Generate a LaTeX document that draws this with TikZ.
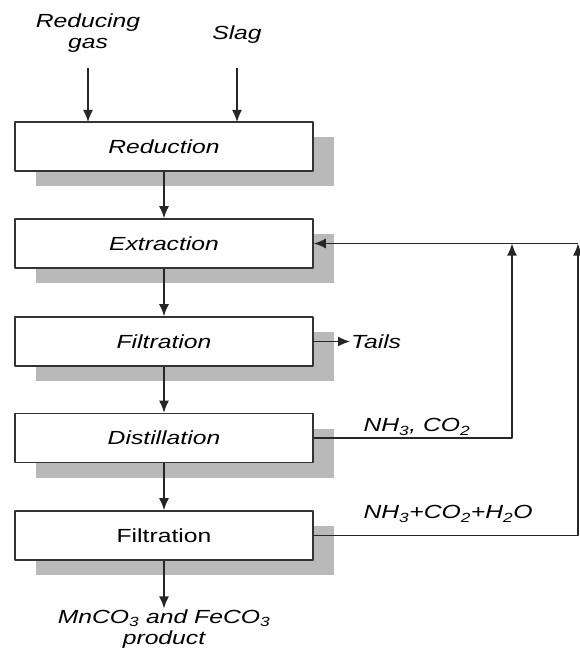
\documentclass[tikz,border=0pt]{standalone}
\usepackage{fontspec}
\setmainfont[FakeStretch=1.3]{Liberation Sans}
\usetikzlibrary{shadows,arrows.meta}
\begin{document}
\begin{tikzpicture}[>={Latex[length=12pt,width=10pt]},line join=round,x=1pt,y=-1pt,font=\fontsize{19}{21}\selectfont\itshape]
\def\bx{164}
\def\xr{578}
\tikzset{stage/.style={draw=black!80,line width=1.6pt,fill=white,minimum width=298pt,minimum height=49pt,inner sep=0pt,
  drop shadow={shadow xshift=21pt,shadow yshift=-15pt,fill=gray!55,opacity=1}},
  flow/.style={->,line width=1.5pt,black!85}}
\useasboundingbox (0,0) rectangle (580,650);
\node[align=center] (gas) at (88,33) {Reducing\\gas};
\node (slag) at (237,35) {Slag};
\node[stage] (red) at (\bx,146.5) {Reduction};
\node[stage] (ext) at (\bx,243.5) {Extraction};
\node[stage] (fil) at (\bx,341.5) {Filtration};
\node[stage] (dis) at (\bx,438) {Distillation};
\node[stage] (fil2) at (\bx,535.5) {\upshape Filtration};
\node[align=center,inner sep=1pt] (prod) at (\bx,629) {MnCO\textsubscript{3} and FeCO\textsubscript{3}\\product};
\node[anchor=west,inner sep=1pt] (tails) at (350,341.5) {Tails};
\node[anchor=west] (gas1) at (360,427) {NH\textsubscript{3}, CO\textsubscript{2}};
\node[anchor=west] (gas2) at (360,514) {NH\textsubscript{3}+CO\textsubscript{2}+H\textsubscript{2}O};
\coordinate (j1) at (512,243.5);
\coordinate (j2) at (\xr,243.5);
% feeds and main line
\draw[flow] (88,68) -- (88,122);
\draw[flow] (237,68) -- (237,122);
\draw[flow] (red) -- (ext);
\draw[flow] (ext) -- (fil);
\draw[flow] (fil) -- (dis);
\draw[flow] (dis) -- (fil2);
\draw[flow] (fil2) -- (prod);
% side streams
\draw[flow] (fil.east) -- (tails);
\draw[flow] (dis.east) -| (j1);
\draw[flow] (fil2.east) -| (j2);
\draw[flow] (j2) -- (ext.east);
\end{tikzpicture}
\end{document}
